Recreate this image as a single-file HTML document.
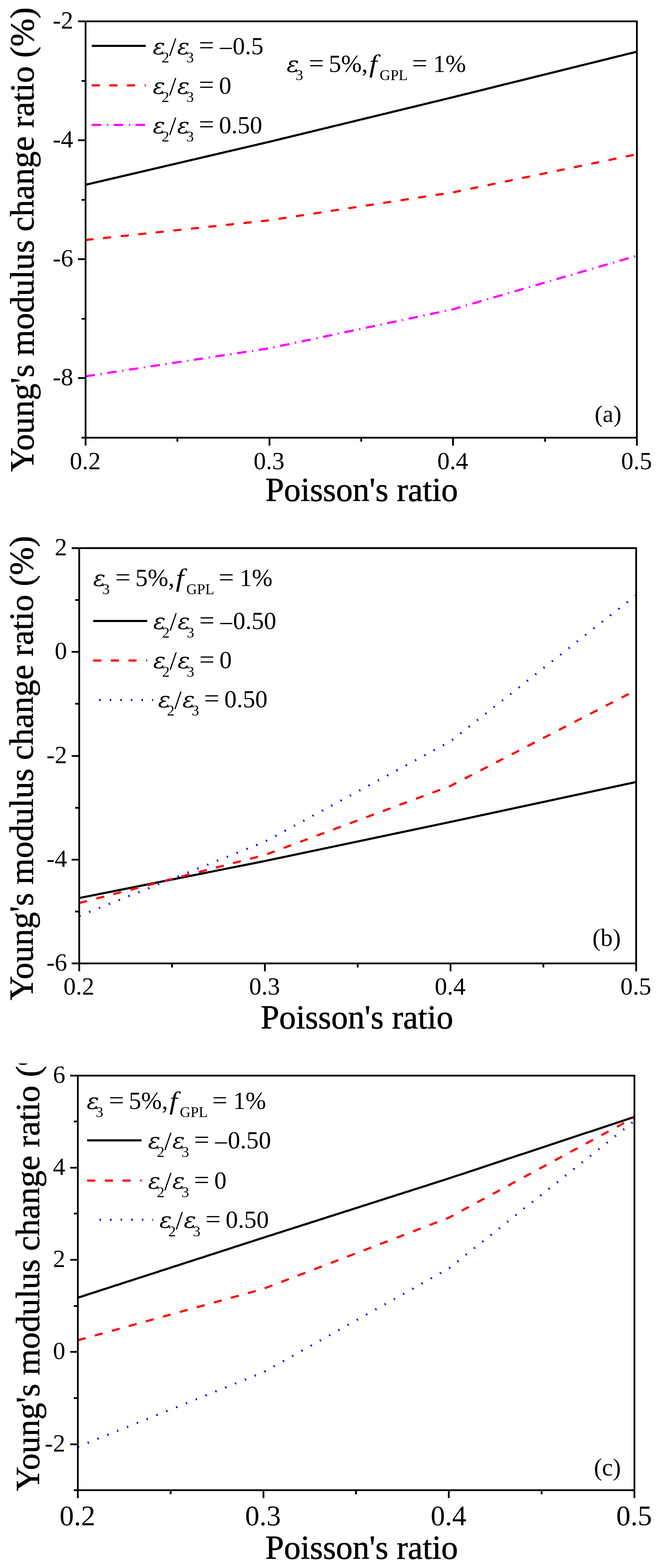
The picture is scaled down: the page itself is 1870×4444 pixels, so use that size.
<!DOCTYPE html><html><head><meta charset="utf-8"><title>Young's modulus change ratio vs Poisson's ratio</title>
<style>html,body{margin:0;padding:0;background:#fff;}svg{display:block;}</style></head><body>
<svg width="1870" height="4444" viewBox="0 0 1870 4444" font-family="'Liberation Serif', 'Times New Roman', serif" fill="#000" shape-rendering="crispEdges">
<defs><clipPath id="clipc"><rect x="0" y="3014" width="300" height="1430"/></clipPath></defs>
<rect width="1870" height="4444" fill="#fff"/>
<polyline points="242.5,523.73 763.17,401.86 1283.83,275.43 1804.5,146.47" stroke="#000" stroke-width="6" fill="none" stroke-linejoin="round"/>
<polyline points="242.5,680.17 763.17,624.37 1283.83,545.14 1804.5,437.26" stroke="#f00" stroke-width="6" fill="none" stroke-linejoin="round" stroke-dasharray="23 27"/>
<polyline points="242.5,1066.53 763.17,987.14 1283.83,876.55 1804.5,724.84" stroke="#f0f" stroke-width="6" fill="none" stroke-linejoin="round" stroke-dasharray="27 15.5 4 15.5"/>
<path d="M242.5 60.5H221M242.5 397.64H221M242.5 734.79H221M242.5 1071.93H221M242.5 229.07H231M242.5 566.21H231M242.5 903.36H231M242.5 1240.5H231M242.5 1240.5V1262.5M763.17 1240.5V1262.5M1283.83 1240.5V1262.5M1804.5 1240.5V1262.5M502.83 1240.5V1252M1023.5 1240.5V1252M1544.17 1240.5V1252" stroke="#000" stroke-width="5" fill="none"/>
<rect x="242.5" y="60.5" width="1562" height="1180" stroke="#000" stroke-width="5" fill="none"/>
<text x="207.5" y="81" font-size="70" text-anchor="end">-2</text>
<text x="207.5" y="418.14" font-size="70" text-anchor="end">-4</text>
<text x="207.5" y="755.29" font-size="70" text-anchor="end">-6</text>
<text x="207.5" y="1092.43" font-size="70" text-anchor="end">-8</text>
<text x="241.5" y="1329.5" font-size="70" text-anchor="middle">0.2</text>
<text x="762.17" y="1329.5" font-size="70" text-anchor="middle">0.3</text>
<text x="1282.83" y="1329.5" font-size="70" text-anchor="middle">0.4</text>
<text x="1803.5" y="1329.5" font-size="70" text-anchor="middle">0.5</text>
<path d="M260 129.9H413" stroke="#000" stroke-width="6"/>
<path d="M260 241.9H413" stroke="#f00" stroke-width="6" stroke-dasharray="23 27"/>
<path d="M260 353.9H413" stroke="#f0f" stroke-width="6" stroke-dasharray="27 15.5 4 15.5"/>
<g><text transform="translate(95 1337) rotate(-90)" font-size="95.4" stroke="#000" stroke-width="1">Young's modulus change ratio (%)</text></g>
<text x="751.9" y="1419.7" font-size="94.7" stroke="#000" stroke-width="1">Poisson's ratio</text>
<polyline points="224.5,2545.21 750.47,2440.3 1276.43,2329.5 1802.4,2216.35" stroke="#000" stroke-width="6" fill="none" stroke-linejoin="round"/>
<polyline points="224.5,2559.33 750.47,2423.08 1276.43,2227.54 1802.4,1955.92" stroke="#f00" stroke-width="6" fill="none" stroke-linejoin="round" stroke-dasharray="23 27"/>
<polyline points="224.5,2595.97 750.47,2385.56 1276.43,2101 1802.4,1686.66" stroke="#00f" stroke-width="6" fill="none" stroke-linejoin="round" stroke-dasharray="4 26"/>
<path d="M224.5 2730.6H203M224.5 2436.32H203M224.5 2142.05H203M224.5 1847.78H203M224.5 1553.5H203M224.5 2583.46H213M224.5 2289.19H213M224.5 1994.91H213M224.5 1700.64H213M224.5 2730.6V2752.6M750.47 2730.6V2752.6M1276.43 2730.6V2752.6M1802.4 2730.6V2752.6M487.48 2730.6V2742.1M1013.45 2730.6V2742.1M1539.42 2730.6V2742.1" stroke="#000" stroke-width="5" fill="none"/>
<rect x="224.5" y="1553.5" width="1577.9" height="1177.1" stroke="#000" stroke-width="5" fill="none"/>
<text x="190" y="2751.1" font-size="70" text-anchor="end">-6</text>
<text x="190" y="2456.82" font-size="70" text-anchor="end">-4</text>
<text x="190" y="2162.55" font-size="70" text-anchor="end">-2</text>
<text x="190" y="1868.28" font-size="70" text-anchor="end">0</text>
<text x="190" y="1574" font-size="70" text-anchor="end">2</text>
<text x="223.5" y="2819" font-size="70" text-anchor="middle">0.2</text>
<text x="749.47" y="2819" font-size="70" text-anchor="middle">0.3</text>
<text x="1275.43" y="2819" font-size="70" text-anchor="middle">0.4</text>
<text x="1801.4" y="2819" font-size="70" text-anchor="middle">0.5</text>
<path d="M264 1760.3H417" stroke="#000" stroke-width="6"/>
<path d="M264 1872.2H417" stroke="#f00" stroke-width="6" stroke-dasharray="23 27"/>
<path d="M281 1984.3H434" stroke="#00f" stroke-width="6" stroke-dasharray="4 26"/>
<g><text transform="translate(93 2835) rotate(-90)" font-size="95.4" stroke="#000" stroke-width="1">Young's modulus change ratio (%)</text></g>
<text x="738.4" y="2914.7" font-size="94.7" stroke="#000" stroke-width="1">Poisson's ratio</text>
<polyline points="220.4,3677.97 746.1,3507.87 1271.8,3339.86 1797.5,3165.58" stroke="#000" stroke-width="6" fill="none" stroke-linejoin="round"/>
<polyline points="220.4,3798.55 746.1,3652.88 1271.8,3451.17 1797.5,3166.89" stroke="#f00" stroke-width="6" fill="none" stroke-linejoin="round" stroke-dasharray="23 27"/>
<polyline points="220.4,4100.6 746.1,3889.35 1271.8,3595.01 1797.5,3176.68" stroke="#00f" stroke-width="6" fill="none" stroke-linejoin="round" stroke-dasharray="4 26"/>
<path d="M220.4 4093.16H198.9M220.4 3831.87H198.9M220.4 3570.58H198.9M220.4 3309.29H198.9M220.4 3048H198.9M220.4 4223.8H208.9M220.4 3962.51H208.9M220.4 3701.22H208.9M220.4 3439.93H208.9M220.4 3178.64H208.9M220.4 4223.8V4245.8M746.1 4223.8V4245.8M1271.8 4223.8V4245.8M1797.5 4223.8V4245.8M483.25 4223.8V4235.3M1008.95 4223.8V4235.3M1534.65 4223.8V4235.3" stroke="#000" stroke-width="5" fill="none"/>
<rect x="220.4" y="3048" width="1577.1" height="1175.8" stroke="#000" stroke-width="5" fill="none"/>
<text x="185" y="4113.66" font-size="70" text-anchor="end">-2</text>
<text x="185" y="3852.37" font-size="70" text-anchor="end">0</text>
<text x="185" y="3591.08" font-size="70" text-anchor="end">2</text>
<text x="185" y="3329.79" font-size="70" text-anchor="end">4</text>
<text x="185" y="3068.5" font-size="70" text-anchor="end">6</text>
<text x="219.4" y="4322.5" font-size="81" text-anchor="middle">0.2</text>
<text x="745.1" y="4322.5" font-size="81" text-anchor="middle">0.3</text>
<text x="1270.8" y="4322.5" font-size="81" text-anchor="middle">0.4</text>
<text x="1796.5" y="4322.5" font-size="81" text-anchor="middle">0.5</text>
<path d="M246.8 3232.3H400.8" stroke="#000" stroke-width="6"/>
<path d="M246.8 3346.2H400.8" stroke="#f00" stroke-width="6" stroke-dasharray="23 27"/>
<path d="M281.5 3457H434" stroke="#00f" stroke-width="6" stroke-dasharray="4 26"/>
<g clip-path="url(#clipc)"><text transform="translate(111 4226) rotate(-90)" font-size="95.4" stroke="#000" stroke-width="1">Young's modulus change ratio (%)</text></g>
<text x="751.8" y="4417.5" font-size="94.7" stroke="#000" stroke-width="1">Poisson's ratio</text>
<text transform="translate(432.93 153.5) scale(1.07 1)" font-size="61" font-family="DejaVu Serif" font-style="italic">ε</text>
<text x="458" y="177" font-size="43">2</text>
<text x="479" y="157.5" font-size="74">/</text>
<text transform="translate(501.93 153.5) scale(1.07 1)" font-size="61" font-family="DejaVu Serif" font-style="italic">ε</text>
<text x="527.7" y="177" font-size="43">3</text>
<text transform="translate(563.2 152) scale(1.1 1)" font-size="70">=</text>
<text x="623" y="153" font-size="67">–</text>
<text x="659" y="153.5" font-size="70">0.5</text>
<text transform="translate(432.93 265.5) scale(1.07 1)" font-size="61" font-family="DejaVu Serif" font-style="italic">ε</text>
<text x="458" y="289" font-size="43">2</text>
<text x="479" y="269.5" font-size="74">/</text>
<text transform="translate(501.93 265.5) scale(1.07 1)" font-size="61" font-family="DejaVu Serif" font-style="italic">ε</text>
<text x="527.7" y="289" font-size="43">3</text>
<text transform="translate(563.2 264) scale(1.1 1)" font-size="70">=</text>
<text x="620.5" y="265.5" font-size="70">0</text>
<text transform="translate(432.93 377.5) scale(1.07 1)" font-size="61" font-family="DejaVu Serif" font-style="italic">ε</text>
<text x="458" y="401" font-size="43">2</text>
<text x="479" y="381.5" font-size="74">/</text>
<text transform="translate(501.93 377.5) scale(1.07 1)" font-size="61" font-family="DejaVu Serif" font-style="italic">ε</text>
<text x="527.7" y="401" font-size="43">3</text>
<text transform="translate(563.2 376) scale(1.1 1)" font-size="70">=</text>
<text x="620.5" y="377.5" font-size="70">0.50</text>
<text transform="translate(812.13 204) scale(1.07 1)" font-size="61" font-family="DejaVu Serif" font-style="italic">ε</text>
<text x="837.6" y="227" font-size="43">3</text>
<text transform="translate(874.7 203) scale(1.1 1)" font-size="70">=</text>
<text x="931.5" y="204" font-size="70">5%,</text>
<text transform="translate(1046.05 205) scale(1.15 1)" font-size="72" font-style="italic">f</text>
<text x="1075.8" y="227" font-size="42">GPL</text>
<text transform="translate(1167.5 203) scale(1.1 1)" font-size="70">=</text>
<text x="1226.9" y="204" font-size="70">1%</text>
<text x="1684.8" y="1196" font-size="68.5">(a)</text>
<text transform="translate(264.03 1660.5) scale(1.07 1)" font-size="61" font-family="DejaVu Serif" font-style="italic">ε</text>
<text x="289.5" y="1683.5" font-size="43">3</text>
<text transform="translate(326.6 1659.5) scale(1.1 1)" font-size="70">=</text>
<text x="383.4" y="1660.5" font-size="70">5%,</text>
<text transform="translate(497.95 1661.5) scale(1.15 1)" font-size="72" font-style="italic">f</text>
<text x="527.7" y="1683.5" font-size="42">GPL</text>
<text transform="translate(619.4 1659.5) scale(1.1 1)" font-size="70">=</text>
<text x="678.8" y="1660.5" font-size="70">1%</text>
<text transform="translate(434.23 1783) scale(1.07 1)" font-size="61" font-family="DejaVu Serif" font-style="italic">ε</text>
<text x="459.3" y="1806.5" font-size="43">2</text>
<text x="480.3" y="1787" font-size="74">/</text>
<text transform="translate(503.23 1783) scale(1.07 1)" font-size="61" font-family="DejaVu Serif" font-style="italic">ε</text>
<text x="529" y="1806.5" font-size="43">3</text>
<text transform="translate(564.5 1781.5) scale(1.1 1)" font-size="70">=</text>
<text x="624.3" y="1782.5" font-size="67">–</text>
<text x="660.3" y="1783" font-size="70">0.50</text>
<text transform="translate(434.23 1894) scale(1.07 1)" font-size="61" font-family="DejaVu Serif" font-style="italic">ε</text>
<text x="459.3" y="1917.5" font-size="43">2</text>
<text x="480.3" y="1898" font-size="74">/</text>
<text transform="translate(503.23 1894) scale(1.07 1)" font-size="61" font-family="DejaVu Serif" font-style="italic">ε</text>
<text x="529" y="1917.5" font-size="43">3</text>
<text transform="translate(564.5 1892.5) scale(1.1 1)" font-size="70">=</text>
<text x="621.8" y="1894" font-size="70">0</text>
<text transform="translate(447.93 2004.5) scale(1.07 1)" font-size="61" font-family="DejaVu Serif" font-style="italic">ε</text>
<text x="473" y="2028" font-size="43">2</text>
<text x="494" y="2008.5" font-size="74">/</text>
<text transform="translate(516.93 2004.5) scale(1.07 1)" font-size="61" font-family="DejaVu Serif" font-style="italic">ε</text>
<text x="542.7" y="2028" font-size="43">3</text>
<text transform="translate(578.2 2003) scale(1.1 1)" font-size="70">=</text>
<text x="635.5" y="2004.5" font-size="70">0.50</text>
<text x="1678.5" y="2681" font-size="69">(b)</text>
<text transform="translate(245.73 3143) scale(1.07 1)" font-size="61" font-family="DejaVu Serif" font-style="italic">ε</text>
<text x="271.2" y="3166" font-size="43">3</text>
<text transform="translate(308.3 3142) scale(1.1 1)" font-size="70">=</text>
<text x="365.1" y="3143" font-size="70">5%,</text>
<text transform="translate(479.65 3144) scale(1.15 1)" font-size="72" font-style="italic">f</text>
<text x="509.4" y="3166" font-size="42">GPL</text>
<text transform="translate(601.1 3142) scale(1.1 1)" font-size="70">=</text>
<text x="660.5" y="3143" font-size="70">1%</text>
<text transform="translate(419.53 3255) scale(1.07 1)" font-size="61" font-family="DejaVu Serif" font-style="italic">ε</text>
<text x="444.6" y="3278.5" font-size="43">2</text>
<text x="465.6" y="3259" font-size="74">/</text>
<text transform="translate(488.53 3255) scale(1.07 1)" font-size="61" font-family="DejaVu Serif" font-style="italic">ε</text>
<text x="514.3" y="3278.5" font-size="43">3</text>
<text transform="translate(549.8 3253.5) scale(1.1 1)" font-size="70">=</text>
<text x="609.6" y="3254.5" font-size="67">–</text>
<text x="645.6" y="3255" font-size="70">0.50</text>
<text transform="translate(419.53 3369) scale(1.07 1)" font-size="61" font-family="DejaVu Serif" font-style="italic">ε</text>
<text x="444.6" y="3392.5" font-size="43">2</text>
<text x="465.6" y="3373" font-size="74">/</text>
<text transform="translate(488.53 3369) scale(1.07 1)" font-size="61" font-family="DejaVu Serif" font-style="italic">ε</text>
<text x="514.3" y="3392.5" font-size="43">3</text>
<text transform="translate(549.8 3367.5) scale(1.1 1)" font-size="70">=</text>
<text x="607.1" y="3369" font-size="70">0</text>
<text transform="translate(451.63 3480) scale(1.07 1)" font-size="61" font-family="DejaVu Serif" font-style="italic">ε</text>
<text x="476.7" y="3503.5" font-size="43">2</text>
<text x="497.7" y="3484" font-size="74">/</text>
<text transform="translate(520.63 3480) scale(1.07 1)" font-size="61" font-family="DejaVu Serif" font-style="italic">ε</text>
<text x="546.4" y="3503.5" font-size="43">3</text>
<text transform="translate(581.9 3478.5) scale(1.1 1)" font-size="70">=</text>
<text x="639.2" y="3480" font-size="70">0.50</text>
<text x="1682.7" y="4182" font-size="69">(c)</text>
</svg></body></html>
